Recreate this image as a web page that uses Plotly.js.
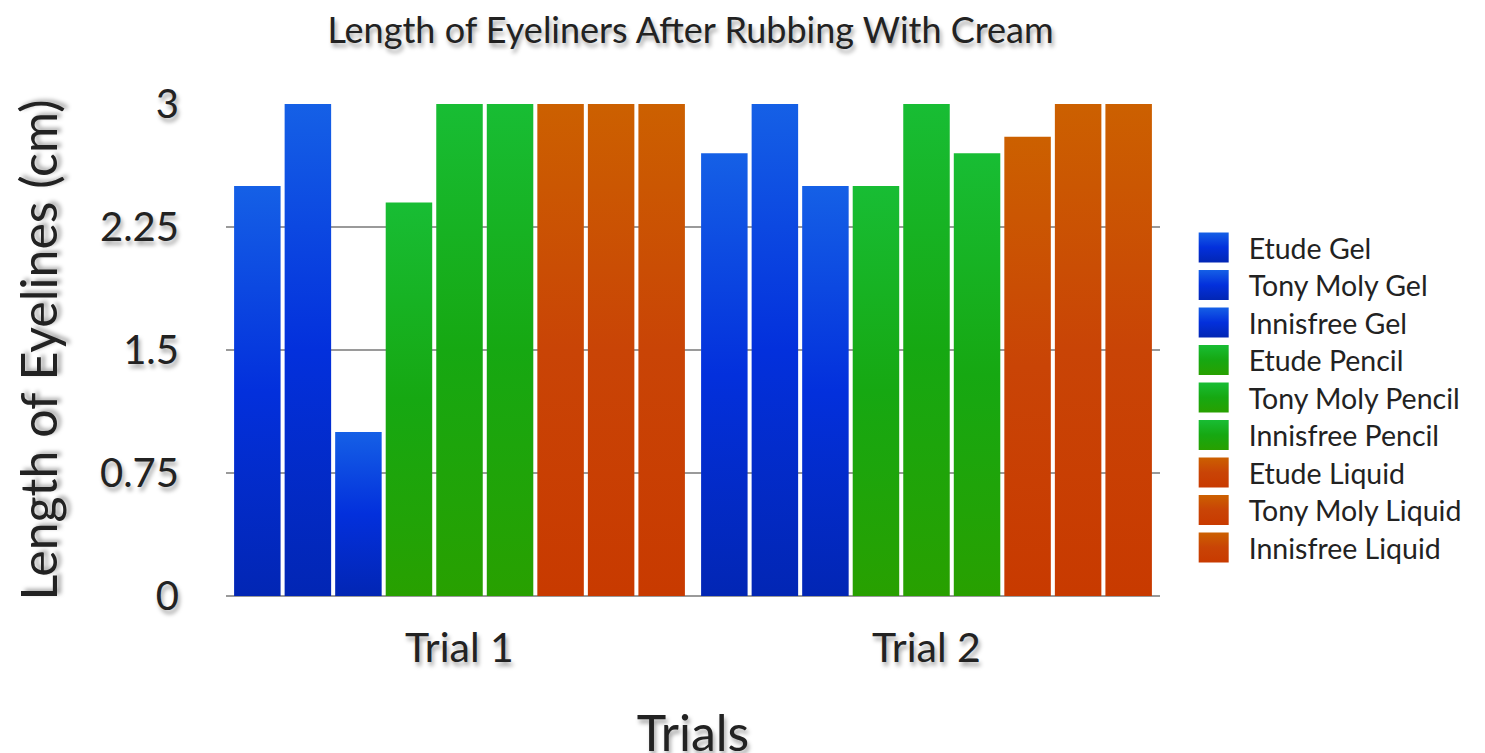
<!DOCTYPE html>
<html>
<head>
<meta charset="utf-8">
<script src="https://cdn.plot.ly/plotly-3.0.1.min.js"></script>
<style>
  html, body { margin: 0; padding: 0; background: #fff; }
  #chart { width: 1485px; height: 753px; }
  .gtitle, .xtitle, .ytitle, .xtick text, .ytick text {
    text-shadow: 2px 4px 4px rgba(0,0,0,0.35);
  }
</style>
</head>
<body>
<div id="chart"></div>
<script>
// ---- data ----
const categories = ["Trial 1", "Trial 2"];
const seriesNames = [
  "Etude Gel", "Tony Moly Gel", "Innisfree Gel",
  "Etude Pencil", "Tony Moly Pencil", "Innisfree Pencil",
  "Etude Liquid", "Tony Moly Liquid", "Innisfree Liquid"
];
const etudeGel        = [2.5, 2.7];
const tonyMolyGel     = [3.0, 3.0];
const innisfreeGel    = [1.0, 2.5];
const etudePencil     = [2.4, 2.5];
const tonyMolyPencil  = [3.0, 3.0];
const innisfreePencil = [3.0, 2.7];
const etudeLiquid     = [3.0, 2.8];
const tonyMolyLiquid  = [3.0, 3.0];
const innisfreeLiquid = [3.0, 3.0];
const yTickVals  = [0, 0.75, 1.5, 2.25, 3];
const yTickText  = ["0", "0.75", "1.5", "2.25", "3"];

const seriesValues = [etudeGel, tonyMolyGel, innisfreeGel,
  etudePencil, tonyMolyPencil, innisfreePencil,
  etudeLiquid, tonyMolyLiquid, innisfreeLiquid];

// ---- style ----
const FONT = "Lato, 'Open Sans', sans-serif";
const baseColors = ["#0732d6", "#0732d6", "#0732d6",
  "#1aa81c", "#1aa81c", "#1aa81c",
  "#c94805", "#c94805", "#c94805"];
const gradStops = {
  blue:   ["#1560e6", "#0330dc", "#0226b4"],
  green:  ["#18bd34", "#16a812", "#28a000"],
  orange: ["#cc6000", "#c94406", "#c83a00"]
};
const gradKey = ["blue","blue","blue","green","green","green","orange","orange","orange"];

const traces = seriesNames.map((name, i) => ({
  type: "bar",
  name: name,
  x: categories,
  y: seriesValues[i],
  marker: { color: baseColors[i], line: { width: 0 } },
  hoverinfo: "x+y+name"
}));

const layout = {
  width: 1485,
  height: 753,
  margin: { l: 226, r: 325, t: 104, b: 157 },
  paper_bgcolor: "#ffffff",
  plot_bgcolor: "#ffffff",
  barmode: "group",
  bargap: 0.026,
  bargroupgap: 0.08,
  showlegend: true,
  title: {
    text: "Length of Eyeliners After Rubbing With Cream",
    font: { family: FONT, size: 36, color: "#222" },
    x: 0.465, xanchor: "center",
    y: 0.96, yanchor: "middle"
  },
  xaxis: {
    type: "category",
    showgrid: false,
    zeroline: false,
    showline: false,
    ticks: "",
    ticklabelstandoff: 24,
    tickfont: { family: FONT, size: 41, color: "#222" },
    title: { text: "Trials", font: { family: FONT, size: 50, color: "#222" }, standoff: 54 }
  },
  yaxis: {
    range: [0, 3],
    tickvals: yTickVals,
    ticktext: yTickText,
    showgrid: true,
    gridcolor: "#9a9a9a",
    gridwidth: 1.3,
    zeroline: true,
    zerolinecolor: "#9a9a9a",
    zerolinewidth: 1.3,
    showline: false,
    ticks: "",
    ticklabelstandoff: 46,
    tickfont: { family: FONT, size: 40, color: "#222" },
    title: { text: "Length of Eyelines (cm)", font: { family: FONT, size: 50, color: "#222" }, standoff: 26 }
  },
  legend: {
    x: 1.02, xanchor: "left",
    y: 0.395, yanchor: "middle",
    font: { family: FONT, size: 28.5, color: "#222" },
    itemwidth: 60,
    tracegroupgap: 0,
    bgcolor: "rgba(0,0,0,0)"
  }
};

const LEGEND_ROW = 37.5;
const LEGEND_SHIFT = -4;
const XTITLE_SHIFT = 9;

Plotly.newPlot("chart", traces, layout, { displayModeBar: false, staticPlot: true }).then(gd => {
  const svg = gd.querySelector(".main-svg");
  const ns = "http://www.w3.org/2000/svg";
  let defs = svg.querySelector("defs");
  if (!defs) { defs = document.createElementNS(ns, "defs"); svg.insertBefore(defs, svg.firstChild); }
  Object.keys(gradStops).forEach(k => {
    const lg = document.createElementNS(ns, "linearGradient");
    lg.setAttribute("id", "grad-" + k);
    lg.setAttribute("x1", "0"); lg.setAttribute("y1", "0");
    lg.setAttribute("x2", "0"); lg.setAttribute("y2", "1");
    gradStops[k].forEach((c, j) => {
      const s = document.createElementNS(ns, "stop");
      s.setAttribute("offset", String(j / (gradStops[k].length - 1)));
      s.setAttribute("stop-color", c);
      lg.appendChild(s);
    });
    defs.appendChild(lg);
  });
  gd.querySelectorAll(".barlayer .trace.bars").forEach((t, i) => {
    t.querySelectorAll("path").forEach(p => { p.style.fill = "url(#grad-" + gradKey[i] + ")"; });
  });
  const items = Array.from(gd.querySelectorAll(".legend .traces"));
  const ys = items.map(t => {
    const m = /translate\(\s*([-\d.]+)[ ,]+([-\d.]+)\s*\)/.exec(t.getAttribute("transform") || "");
    return m ? [parseFloat(m[1]), parseFloat(m[2])] : [0, 0];
  });
  const mid = (ys[0][1] + ys[ys.length - 1][1]) / 2 + LEGEND_SHIFT;
  items.forEach((t, i) => {
    const ny = mid + (i - (items.length - 1) / 2) * LEGEND_ROW;
    t.setAttribute("transform", "translate(" + ys[i][0] + "," + ny + ")");
    t.querySelectorAll(".legendpoints path").forEach(p => {
      p.setAttribute("d", "M15,15H-15V-15H15Z");
      p.style.fill = "url(#grad-" + gradKey[i] + ")";
      p.style.stroke = "none";
    });
  });
  const xt = gd.querySelector(".g-xtitle");
  if (xt) {
    const prev = xt.getAttribute("transform") || "";
    xt.setAttribute("transform", (prev + " translate(0," + XTITLE_SHIFT + ")").trim());
  }
});
</script>
</body>
</html>
